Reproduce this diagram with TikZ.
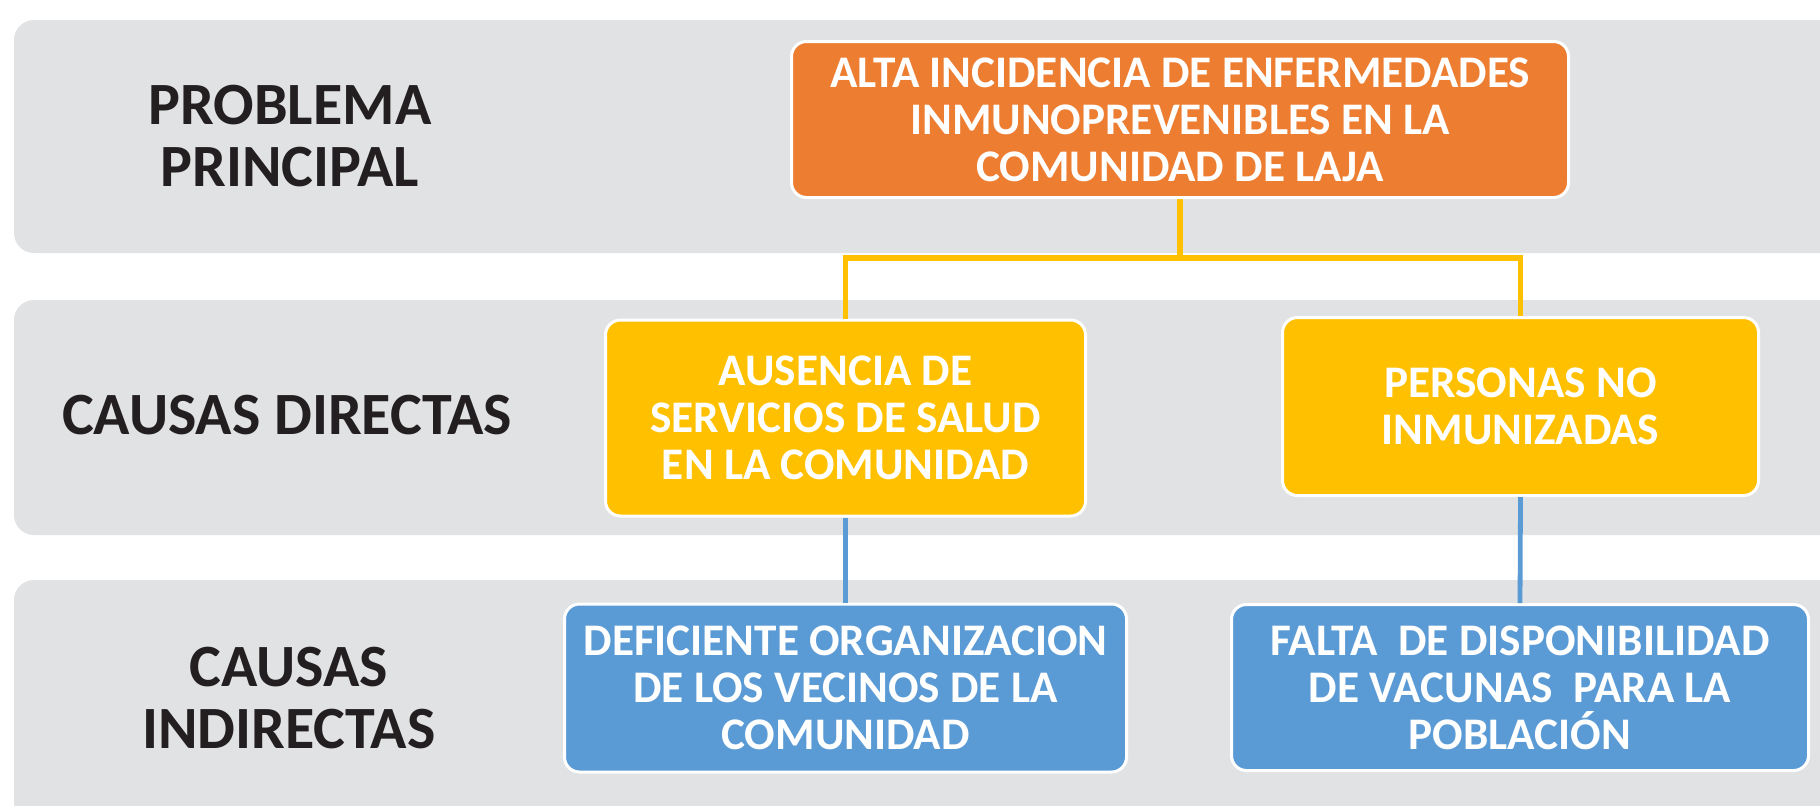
\documentclass[tikz,border=0pt]{standalone}
\usepackage{fontspec}
\setmainfont{Carlito}
\definecolor{bandgray}{HTML}{E1E2E4}
\definecolor{labeltext}{HTML}{231F20}
\definecolor{probfill}{HTML}{ED7D31}
\definecolor{dirfill}{HTML}{FFC000}
\definecolor{indfill}{HTML}{5B9BD5}
\begin{document}
\begin{tikzpicture}[x=0.5pt,y=-0.5pt,
		band/.style={fill=bandgray,rounded corners=10pt},
		rowlabel/.style={text=labeltext,align=center,font=\fontsize{30}{31}\selectfont\bfseries},
		causebox/.style={draw=white,line width=1.5pt,rounded corners=7.5pt,text=white,align=center,inner sep=0pt,font=\fontsize{22.6}{23.5}\selectfont\bfseries},
		yline/.style={draw=dirfill,line width=2.8pt},
		bline/.style={draw=indfill,line width=2.4pt}]
		
		\clip (0,0) rectangle (1820,805);
		\fill[band] (14,20) rectangle (1860,253);
		\fill[band] (14,300) rectangle (1860,535);
		\fill[band] (14,580) rectangle (1860,850);
		
		\node[rowlabel] (lblprob) at (290,136) {PROBLEMA\\PRINCIPAL};
		\node[rowlabel] (lbldir) at (287,415) {CAUSAS DIRECTAS};
		\node[rowlabel] (lblind) at (289,698) {CAUSAS\\INDIRECTAS};
		
		\node[causebox,fill=probfill,minimum width=388.5pt,minimum height=78pt] (prob) at (1180,119.5) {ALTA INCIDENCIA DE ENFERMEDADES\\INMUNOPREVENIBLES EN LA\\COMUNIDAD DE LAJA};
		\node[causebox,fill=dirfill,minimum width=240pt,minimum height=98pt] (dir1) at (845.5,418) {AUSENCIA DE\\SERVICIOS DE SALUD\\EN LA COMUNIDAD};
		\node[causebox,fill=dirfill,minimum width=238pt,minimum height=89pt] (dir2) at (1520.5,406.5) {PERSONAS NO\\INMUNIZADAS};
		\node[causebox,fill=indfill,minimum width=281pt,minimum height=84pt] (ind1) at (845.5,688) {DEFICIENTE ORGANIZACION\\DE LOS VECINOS DE LA\\COMUNIDAD};
		\node[causebox,fill=indfill,minimum width=288.5pt,minimum height=83pt] (ind2) at (1520,687.5) {FALTA\ \ DE DISPONIBILIDAD\\DE VACUNAS\ \ PARA LA\\POBLACIÓN};
		
		\coordinate (split) at (1180,258);
		\draw[yline] (prob.south) -- (split) -| (dir1.north);
		\draw[yline] (split) -| (dir2.north);
		\draw[bline] (dir1.south) -- (ind1.north);
		\draw[bline] (dir2.south) -- (ind2.north);
		\end{tikzpicture}
\end{document}
